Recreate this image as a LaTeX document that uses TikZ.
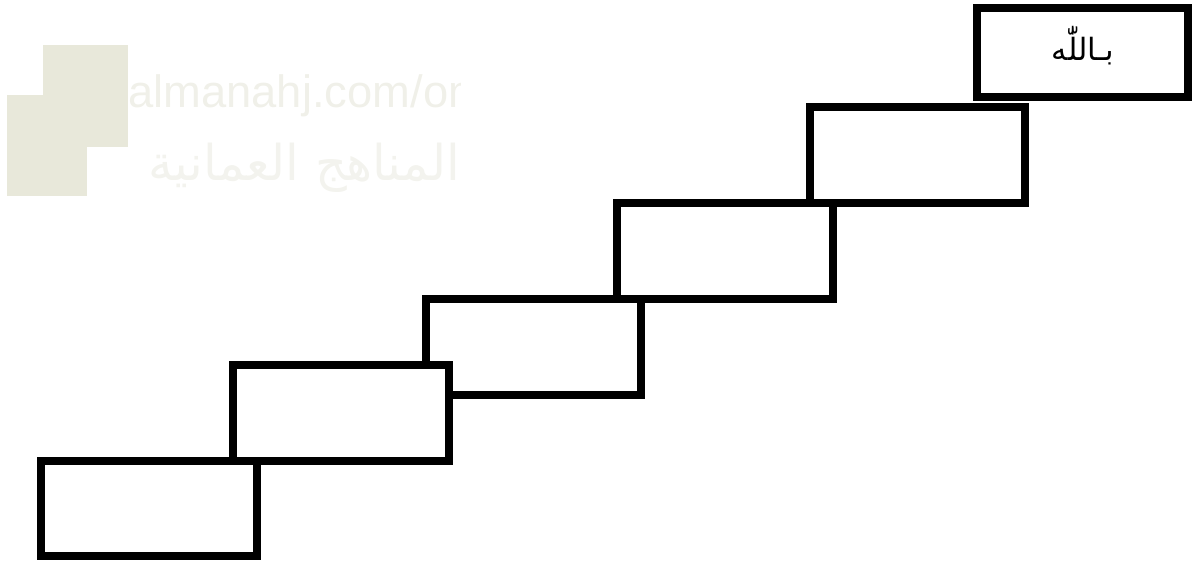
\documentclass[tikz,border=0pt]{standalone}
\usepackage{fontspec}
\setmainfont{Liberation Sans}
\newfontfamily\arabicfont[Script=Arabic]{DejaVu Sans}
\TeXXeTstate=1
\definecolor{wmsq}{HTML}{E8E8DA}
\definecolor{wmtx}{HTML}{F0F0E9}
\definecolor{wmar}{HTML}{F3F3EE}
\tikzset{
  stair/.style={draw=black, line width=6pt, fill=white, line join=miter},
  lbl/.style={font=\arabicfont\fontsize{23}{26}\selectfont, inner sep=0pt}
}
\begin{document}
\begin{tikzpicture}[x=0.75pt, y=-0.75pt]
\useasboundingbox (0,0) rectangle (1198,565);
% watermark
\begin{scope}
\clip (0,0) rectangle (460,200);
\fill[wmsq] (43,45) rectangle (128,147);
\fill[wmsq] (7,95) rectangle (87,196);
\node[anchor=base west, inner sep=0pt, text=wmtx, font=\fontsize{34}{36}\selectfont] (wm1) at (128,107) {almanahj.com/om};
\node[anchor=base west, inner sep=0pt, text=wmar, font=\arabicfont\fontsize{37}{40}\selectfont] (wm2) at (148,180) {\beginR المناهج العمانية\endR};
\end{scope}
% boxes, top to bottom
\draw[stair] (977,8) rectangle (1188,97);
\coordinate (c6) at (1083,46);
\node[lbl] (t6) at (c6) {\beginR بـاللّٰه\endR};
\draw[stair] (810,107) rectangle (1025,203);
\draw[stair] (617,203) rectangle (833,299);
\draw[stair] (426,299) rectangle (641,395);
\draw[stair] (233,365) rectangle (449,461);
\draw[stair] (41,461) rectangle (257,556);
\end{tikzpicture}
\end{document}
